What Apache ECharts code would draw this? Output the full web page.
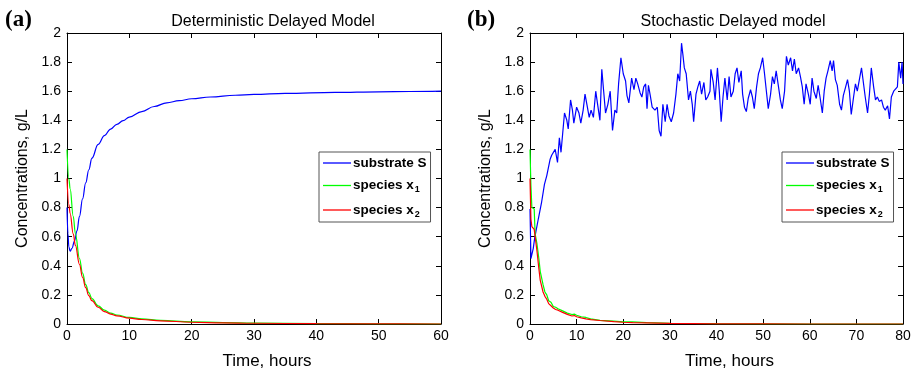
<!DOCTYPE html>
<html>
<head>
<meta charset="utf-8">
<script src="https://cdn.jsdelivr.net/npm/echarts@6/dist/echarts.min.js"></script>
<style>
html,body{margin:0;padding:0;background:#fff;}
#c{width:915px;height:375px;}
</style>
</head>
<body>
<div id="c"></div>
<script>
// ---- Panel (a): deterministic delayed model ----
var detT_S  = [0, 0.15, 0.3, 0.5, 0.8, 1.2, 1.6, 2, 2.5, 3, 3.5, 4, 5, 6, 7, 8, 9, 10, 12, 14, 16, 18, 20, 23, 27, 30, 35, 43, 50, 55, 60];
var detS    = [0.8, 0.62, 0.53, 0.5, 0.52, 0.57, 0.64, 0.74, 0.86, 0.97, 1.06, 1.14, 1.235, 1.295, 1.34, 1.372, 1.398, 1.422, 1.46, 1.495, 1.52, 1.535, 1.548, 1.56, 1.572, 1.578, 1.585, 1.592, 1.596, 1.598, 1.6];
var detT_X  = [0, 0.3, 0.5, 1, 1.35, 2, 2.5, 3, 3.5, 4, 5, 6, 7, 8, 10, 12, 15, 20, 25, 30, 40, 50, 60];
var detX1   = [1.2, 1.0, 0.93, 0.74, 0.62, 0.45, 0.35, 0.27, 0.215, 0.175, 0.125, 0.095, 0.075, 0.062, 0.045, 0.035, 0.025, 0.015, 0.01, 0.006, 0.003, 0.001, 0];
var detX2   = [1.0, 0.82, 0.76, 0.62, 0.54, 0.41, 0.32, 0.25, 0.195, 0.16, 0.115, 0.085, 0.068, 0.056, 0.04, 0.031, 0.022, 0.012, 0.008, 0.005, 0.002, 0.001, 0];

// ---- Panel (b): stochastic delayed model ----
var stoT_S = [0, 0.2, 0.7, 1.0, 1.8, 2.5, 3.1, 3.6, 4.3, 4.65, 5.4, 5.9, 6.3, 6.65, 7.4, 7.9, 8.2, 8.7, 9.1, 9.4, 10.0, 10.5, 10.9, 11.4, 11.8, 12.2, 12.7, 13.1, 13.6, 14.1, 14.5, 15.0, 15.4, 15.8, 16.2, 16.7, 17.2, 17.7, 18.2, 18.6, 19.0, 19.5, 20.0, 20.5, 20.8, 21.2, 21.8, 22.3, 22.7, 23.1, 23.6, 24.0, 24.4, 24.8, 25.1, 25.4, 25.8, 26.2, 26.8, 27.3, 27.7, 28.1, 28.5, 29.0, 29.4, 29.8, 30.3, 30.8, 31.3, 31.7, 32.1, 32.5, 32.8, 33.1, 33.5, 34.0, 34.4, 34.8, 35.1, 35.6, 36.0, 36.4, 36.8, 37.3, 37.7, 38.1, 38.6, 38.8, 39.3, 39.7, 40.2, 40.6, 41.0, 41.4, 41.8, 42.3, 42.7, 43.1, 43.6, 44.0, 44.4, 44.8, 45.3, 45.6, 46.0, 46.4, 46.8, 47.3, 47.7, 48.1, 48.6, 49.0, 49.4, 49.9, 50.3, 50.7, 51.1, 51.6, 52.0, 52.4, 52.8, 53.3, 53.7, 54.1, 54.6, 55.0, 55.4, 55.9, 56.3, 56.7, 57.1, 57.6, 58.0, 58.4, 58.8, 59.2, 59.7, 60.1, 60.5, 60.9, 61.4, 61.8, 62.2, 62.7, 63.1, 63.5, 63.9, 64.4, 64.8, 65.1, 65.5, 65.9, 66.4, 66.8, 67.2, 67.7, 68.1, 68.5, 68.9, 69.4, 69.8, 70.2, 70.7, 71.1, 71.5, 71.9, 72.4, 72.8, 73.2, 73.7, 74.1, 74.5, 74.9, 75.4, 75.8, 76.2, 76.7, 77.1, 77.5, 78.0, 78.4, 78.8, 79.1, 79.5, 79.8, 80];
var stoS   = [0.79, 0.45, 0.52, 0.59, 0.725, 0.84, 0.96, 1.02, 1.13, 1.16, 1.2, 1.11, 1.28, 1.18, 1.45, 1.40, 1.34, 1.54, 1.47, 1.38, 1.49, 1.45, 1.38, 1.47, 1.58, 1.51, 1.42, 1.47, 1.42, 1.60, 1.51, 1.40, 1.75, 1.60, 1.45, 1.51, 1.60, 1.33, 1.47, 1.45, 1.65, 1.83, 1.72, 1.67, 1.57, 1.52, 1.69, 1.61, 1.69, 1.65, 1.59, 1.56, 1.63, 1.65, 1.48, 1.64, 1.57, 1.49, 1.47, 1.49, 1.33, 1.29, 1.51, 1.39, 1.51, 1.43, 1.39, 1.45, 1.58, 1.72, 1.67, 1.93, 1.85, 1.76, 1.72, 1.54, 1.60, 1.51, 1.39, 1.58, 1.63, 1.67, 1.58, 1.66, 1.54, 1.56, 1.60, 1.75, 1.66, 1.54, 1.76, 1.60, 1.39, 1.56, 1.69, 1.54, 1.70, 1.56, 1.60, 1.72, 1.76, 1.66, 1.74, 1.58, 1.49, 1.46, 1.55, 1.61, 1.56, 1.48, 1.63, 1.72, 1.76, 1.83, 1.72, 1.60, 1.48, 1.58, 1.70, 1.65, 1.74, 1.63, 1.54, 1.48, 1.60, 1.84, 1.78, 1.83, 1.74, 1.82, 1.72, 1.76, 1.70, 1.63, 1.51, 1.65, 1.58, 1.51, 1.69, 1.60, 1.55, 1.64, 1.56, 1.45, 1.60, 1.69, 1.74, 1.81, 1.74, 1.81, 1.68, 1.64, 1.51, 1.47, 1.57, 1.63, 1.68, 1.60, 1.44, 1.56, 1.65, 1.60, 1.69, 1.76, 1.66, 1.56, 1.45, 1.58, 1.76, 1.63, 1.54, 1.56, 1.53, 1.54, 1.49, 1.47, 1.50, 1.41, 1.56, 1.60, 1.59, 1.63, 1.80, 1.69, 1.80, 1.65];
var stoT_X = [0, 0.2, 0.4, 0.9, 1.1, 1.5, 1.9, 2.2, 2.5, 2.8, 3.2, 3.6, 4, 4.5, 5, 5.5, 6, 7, 8, 9, 9.5, 10, 11, 12, 13, 15, 18, 20, 22, 25, 30, 40, 50, 60, 80];
var stoX1  = [1.2, 0.95, 0.8, 0.79, 0.62, 0.55, 0.45, 0.36, 0.37, 0.27, 0.22, 0.2, 0.16, 0.15, 0.12, 0.115, 0.105, 0.09, 0.075, 0.065, 0.068, 0.06, 0.05, 0.045, 0.035, 0.025, 0.02, 0.015, 0.015, 0.01, 0.005, 0.002, 0.001, 0, 0];
var stoX2  = [1.0, 0.72, 0.67, 0.65, 0.6, 0.5, 0.38, 0.3, 0.31, 0.22, 0.19, 0.17, 0.14, 0.125, 0.11, 0.1, 0.095, 0.08, 0.066, 0.055, 0.058, 0.05, 0.042, 0.035, 0.03, 0.024, 0.016, 0.012, 0.01, 0.008, 0.004, 0.001, 0.0005, 0, 0];

var yTicks = [0, 2, 0.2];      // min, max, interval
var names = ['substrate S', 'species x1', 'species x2'];
var colors = ['#0000ff', '#00ff00', '#ff0000'];

function zip(t, v) { return t.map(function (x, i) { return [x, v[i]]; }); }

var FONT = 'Liberation Sans, Arial, sans-serif';
var chart = echarts.init(document.getElementById('c'), null, {renderer: 'canvas'});

function xAx(grid, max, pos, show) {
  return {
    type: 'value', gridIndex: grid, min: 0, max: max, interval: 10, position: pos,
    axisLine: {show: true, onZero: false, lineStyle: {color: '#000', width: 1}},
    axisTick: {show: true, inside: true, length: 5, lineStyle: {color: '#000'}},
    axisLabel: {show: show, color: '#000', fontSize: 14, fontFamily: FONT, margin: 5},
    splitLine: {show: false},
    name: show ? 'Time, hours' : '', nameLocation: 'middle', nameGap: 29,
    nameTextStyle: {color: '#000', fontSize: 17, fontFamily: FONT, padding: [0, 0, 0, 26]}
  };
}
function yAx(grid, pos, show) {
  return {
    type: 'value', gridIndex: grid, min: yTicks[0], max: yTicks[1], interval: yTicks[2], position: pos,
    axisLine: {show: true, onZero: false, lineStyle: {color: '#000', width: 1}},
    axisTick: {show: true, inside: true, length: 5, lineStyle: {color: '#000'}},
    axisLabel: {show: show, color: '#000', fontSize: 14, fontFamily: FONT, margin: 6},
    splitLine: {show: false},
    name: show ? 'Concentrations, g/L' : '', nameLocation: 'middle', nameGap: 36,
    nameTextStyle: {color: '#000', fontSize: 16, fontFamily: FONT}
  };
}
function ser(name, data, xi, yi, color, smooth) {
  return {
    name: name, type: 'line', data: data, xAxisIndex: xi, yAxisIndex: yi,
    symbol: 'none', smooth: smooth, smoothMonotone: smooth ? 'x' : undefined, animation: false,
    lineStyle: {color: color, width: 1.2}, itemStyle: {color: color}
  };
}
function legendFmt(n) {
  if (n === 'substrate S') return '{b|substrate S}';
  if (n === 'species x1') return '{b|species x}{s|1}';
  return '{b|species x}{s|2}';
}
function legend(left) {
  return {
    orient: 'vertical', left: left, top: 152, data: names,
    borderColor: '#555', borderWidth: 1, borderRadius: 0, padding: [4, 4, 3, 4],
    backgroundColor: '#fff', itemWidth: 28, itemHeight: 14, itemGap: 6.5,
    icon: 'path://M0,6 L28,6 L28,7.3 L0,7.3 Z',
    formatter: legendFmt, selectedMode: false,
    textStyle: {
      color: '#000', fontFamily: FONT, padding: [0, 0, 0, -3],
      rich: {
        b: {fontSize: 13.5, fontWeight: 'bold', fontFamily: FONT, color: '#000', lineHeight: 16},
        s: {fontSize: 9, fontWeight: 'bold', fontFamily: FONT, color: '#000', padding: [9, 0, 0, 1], lineHeight: 16}
      }
    }
  };
}

var option = {
  animation: false,
  backgroundColor: '#fff',
  grid: [
    {left: 67, right: 474, top: 33, bottom: 46, containLabel: false},
    {left: 530, right: 12, top: 33, bottom: 46, containLabel: false}
  ],
  xAxis: [xAx(0, 60, 'bottom', true), xAx(0, 60, 'top', false), xAx(1, 80, 'bottom', true), xAx(1, 80, 'top', false)],
  yAxis: [yAx(0, 'left', true), yAx(0, 'right', false), yAx(1, 'left', true), yAx(1, 'right', false)],
  legend: [legend(319), legend(782)],
  series: [
    ser(names[0], zip(detT_S, detS), 0, 0, colors[0], 0.4),
    ser(names[1], zip(detT_X, detX1), 0, 0, colors[1], 0.4),
    ser(names[2], zip(detT_X, detX2), 0, 0, colors[2], 0.4),
    ser(names[0], zip(stoT_S, stoS), 2, 2, colors[0], false),
    ser(names[1], zip(stoT_X, stoX1), 2, 2, colors[1], false),
    ser(names[2], zip(stoT_X, stoX2), 2, 2, colors[2], false)
  ],
  graphic: [
    {type: 'text', left: 5, top: 9, style: {text: '(a)', font: 'bold 23px "Liberation Serif", "Times New Roman", serif', fill: '#000'}},
    {type: 'text', left: 467, top: 9, style: {text: '(b)', font: 'bold 23px "Liberation Serif", "Times New Roman", serif', fill: '#000'}},
    {type: 'text', x: 273, y: 22, style: {text: 'Deterministic Delayed Model', font: '16px "Liberation Sans", Arial, sans-serif', fill: '#000', textAlign: 'center', textVerticalAlign: 'middle'}},
    {type: 'text', x: 733, y: 22, style: {text: 'Stochastic Delayed model', font: '16px "Liberation Sans", Arial, sans-serif', fill: '#000', textAlign: 'center', textVerticalAlign: 'middle'}}
  ]
};
chart.setOption(option);
</script>
</body>
</html>
